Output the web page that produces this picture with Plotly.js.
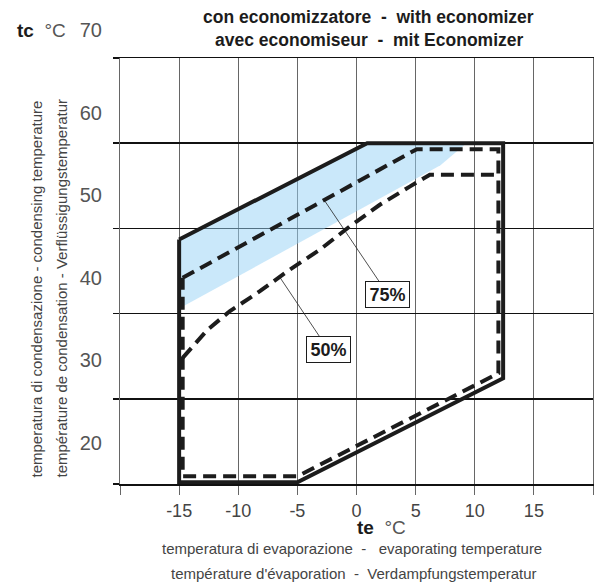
<!DOCTYPE html>
<html>
<head>
<meta charset="utf-8">
<script src="https://cdn.plot.ly/plotly-3.0.1.min.js"></script>
<style>html,body{margin:0;padding:0;background:#fff;}#chart{width:598px;height:586px;}</style>
</head>
<body>
<div id="chart"></div>
<script>
// ---- data (te = evaporating temperature °C, tc = condensing temperature °C) ----
const envelopeTe = [-15, 0.9, 12.4, 12.4, -5.0, -15, -15];
const envelopeTc = [43.7, 55.0, 55.0, 27.4, 15.2, 15.2, 43.7];

const load75Te = [-14.7, 5.1, 12.0, 12.0, -5.0, -14.7, -14.7];
const load75Tc = [39.2, 54.3, 54.3, 28.0, 15.9, 15.9, 39.2];

const load50Te = [-14.7, -12.6, -10.7, -8.2, -5.6, -3.1, -0.6, 2.0, 4.5, 6.2, 12.0];
const load50Tc = [29.8, 33.1, 35.3, 37.6, 40.2, 42.5, 45.2, 47.8, 49.9, 51.3, 51.3];

const bandTe = [-15, -15, 0.9, 9.3, 7.1, -15];
const bandTc = [35.6, 43.7, 55.0, 55.0, 52.4, 35.6];

const xTickVals = [-20, -15, -10, -5, 0, 5, 10, 15, 20];
const xTickText = ['', '-15', '-10', '-5', '0', '5', '10', '15', ''];
const yGridVals = [15, 25, 35, 45, 55, 65];
const yLabelVals = [20, 30, 40, 50, 60, 70];

const label75 = {text: '75%', te: -2.67, tc: 48.2, boxTe: 2.63, boxTc: 37.3};
const label50 = {text: '50%', te: -6.5, tc: 39.3, boxTe: -2.4, boxTc: 30.8};

// ---- styles ----
const SANS = '"Liberation Sans", Arial, sans-serif';
const INK = '#1c1c1c';

const traces = [
  {x: bandTe, y: bandTc, type: 'scatter', mode: 'lines', fill: 'toself',
   fillcolor: 'rgba(150,210,245,0.5)', line: {width: 0}, hoverinfo: 'skip', showlegend: false},
  {x: envelopeTe, y: envelopeTc, type: 'scatter', mode: 'lines',
   line: {color: INK, width: 4}, hoverinfo: 'skip', showlegend: false},
  {x: load75Te, y: load75Tc, type: 'scatter', mode: 'lines',
   line: {color: INK, width: 4, dash: '13px,7px'}, hoverinfo: 'skip', showlegend: false},
  {x: load50Te, y: load50Tc, type: 'scatter', mode: 'lines',
   line: {color: INK, width: 4, dash: '13px,7px'}, hoverinfo: 'skip', showlegend: false},
  {x: [], y: [], xaxis: 'x2', yaxis: 'y2', type: 'scatter', mode: 'lines',
   hoverinfo: 'skip', showlegend: false}
];

function loadLabel(l) {
  return {x: l.te, y: l.tc, xref: 'x', yref: 'y', ax: l.boxTe, ay: l.boxTc, axref: 'x', ayref: 'y',
    text: '<b>' + l.text + '</b>', showarrow: true, arrowhead: 0, arrowwidth: 0.8, arrowcolor: '#222',
    font: {family: SANS, size: 18, color: INK}, bgcolor: '#fff', bordercolor: INK, borderwidth: 1,
    borderpad: 2, width: 39, height: 21};
}

const layout = {
  width: 598, height: 586,
  margin: {l: 120, r: 5, t: 20, b: 102},
  paper_bgcolor: '#fff', plot_bgcolor: 'rgba(0,0,0,0)',
  showlegend: false,
  xaxis: {range: [-20, 20], domain: [0, 1], anchor: 'y', tickmode: 'array', tickvals: xTickVals, ticktext: xTickText,
    ticks: 'outside', ticklen: 9, tickwidth: 1, tickcolor: '#666', showgrid: true, gridcolor: '#666', gridwidth: 1,
    zeroline: false, showline: true, mirror: true, linecolor: '#111', linewidth: 1.5, ticklabelstandoff: 1,
    tickfont: {family: SANS, size: 18, color: '#444'}},
  yaxis: {range: [15, 65], domain: [0, 0.9181], anchor: 'x', tickmode: 'array', tickvals: yGridVals,
    showticklabels: false, ticks: 'outside', ticklen: 6, tickwidth: 1.5, tickcolor: '#111',
    showgrid: true, gridcolor: '#111', gridwidth: 1.5, zeroline: false,
    showline: true, mirror: true, linecolor: '#666', linewidth: 1},
  xaxis2: {domain: [0, 1], anchor: 'y2', range: [0, 1], visible: false},
  yaxis2: {range: [15, 70], domain: [0, 0.9778], anchor: 'x2', tickmode: 'array', tickvals: yLabelVals,
    ticks: '', showgrid: false, zeroline: false, showline: false, ticklabelstandoff: 17,
    tickfont: {family: SANS, size: 20, color: '#555'}},
  annotations: [
    {text: '<b>con economizzatore  -  with economizer</b>', xref: 'paper', yref: 'paper', x: 0.526, y: 1.0065,
     showarrow: false, xanchor: 'center', yanchor: 'middle', font: {family: SANS, size: 17.5, color: INK}},
    {text: '<b>avec economiseur  -  mit Economizer</b>', xref: 'paper', yref: 'paper', x: 0.526, y: 0.957,
     showarrow: false, xanchor: 'center', yanchor: 'middle', font: {family: SANS, size: 17.5, color: INK}},
    {text: '<b>tc</b>  <span style="color:#555">°C</span>', xref: 'paper', yref: 'paper', x: -0.222, y: 0.978,
     showarrow: false, xanchor: 'left', yanchor: 'middle', font: {family: SANS, size: 19, color: INK}},
    {text: '<b>te</b>  <span style="color:#555">°C</span>', xref: 'paper', yref: 'paper', x: 0.497, y: -0.0948,
     showarrow: false, xanchor: 'left', yanchor: 'middle', font: {family: SANS, size: 19, color: INK}},
    {text: 'temperatura di evaporazione  -   evaporating temperature', xref: 'paper', yref: 'paper',
     x: 0.4895, y: -0.140, showarrow: false, xanchor: 'center', yanchor: 'middle',
     font: {family: SANS, size: 15, color: '#444'}},
    {text: "température d'évaporation  -  Verdampfungstemperatur", xref: 'paper', yref: 'paper',
     x: 0.4947, y: -0.192, showarrow: false, xanchor: 'center', yanchor: 'middle',
     font: {family: SANS, size: 15, color: '#444'}},
    {text: 'temperatura di condensazione - condensing temperature', xref: 'paper', yref: 'paper',
     x: -0.1755, y: 0.4213, textangle: -90, showarrow: false, xanchor: 'center', yanchor: 'middle',
     font: {family: SANS, size: 15, color: '#444'}},
    {text: 'température de condensation - Verflüssigungstemperatur', xref: 'paper', yref: 'paper',
     x: -0.1247, y: 0.4213, textangle: -90, showarrow: false, xanchor: 'center', yanchor: 'middle',
     font: {family: SANS, size: 15, color: '#444'}},
    loadLabel(label75),
    loadLabel(label50)
  ]
};

Plotly.newPlot('chart', traces, layout, {staticPlot: true, displayModeBar: false});
</script>
</body>
</html>
